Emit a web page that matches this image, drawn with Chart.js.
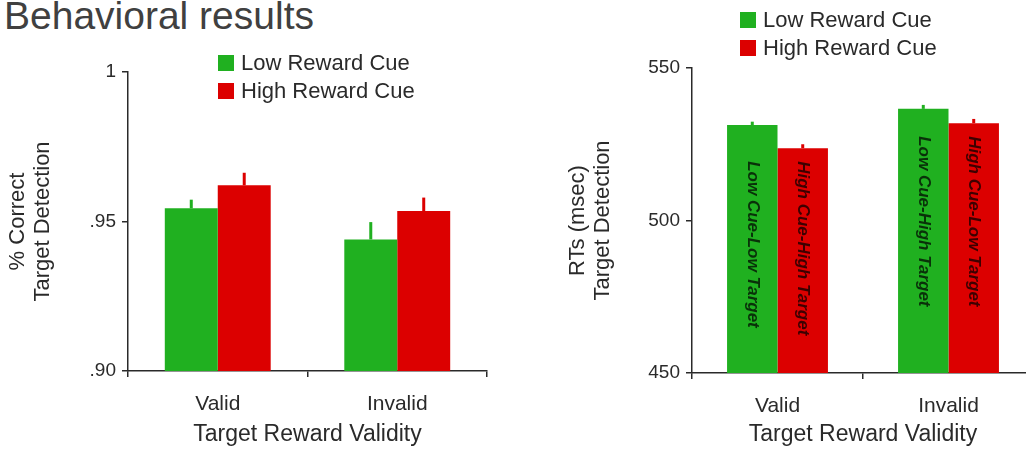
<!DOCTYPE html>
<html>
<head>
<meta charset="utf-8">
<script src="https://cdn.jsdelivr.net/npm/chart.js@4.4.1/dist/chart.umd.min.js"></script>
<style>
  html, body { margin: 0; padding: 0; background: #fff; overflow: hidden; }
  #page { position: relative; width: 1026px; height: 449px; overflow: hidden; }
  #title { position: absolute; left: 4px; top: -6px; font: 39px "Liberation Sans", Arial, sans-serif; color: #404040; white-space: nowrap; }
  #leftBox { position: absolute; left: 0; top: 0; width: 520px; height: 449px; }
  #rightBox { position: absolute; left: 560px; top: 0; width: 490px; height: 449px; }
</style>
</head>
<body>
<div id="page">
  <div id="title">Behavioral results</div>
  <div id="leftBox"><canvas id="accChart"></canvas></div>
  <div id="rightBox"><canvas id="rtChart"></canvas></div>
</div>
<script>
// data
const categories = ['Valid', 'Invalid'];
const seriesLabels = ['Low Reward Cue', 'High Reward Cue'];
const seriesColors = ['#20b020', '#dc0000'];

const accuracyLow = [0.9544, 0.9440];
const accuracyHigh = [0.9621, 0.9535];
const accuracyLowErr = [0.0029, 0.0058];
const accuracyHighErr = [0.0042, 0.0045];
const accuracyTicks = ['.90', '.95', '1'];

const rtLow = [531.3, 536.6];
const rtHigh = [523.7, 531.9];
const rtLowErr = [1.1, 1.3];
const rtHighErr = [1.3, 1.4];
const rtTicks = ['450', '500', '550'];

const rtBarLabels = [
  ['Low Cue-Low Target', 'Low Cue-High Target'],
  ['High Cue-High Target', 'High Cue-Low Target']
];

const FONT = '"Liberation Sans", Arial, sans-serif';
const INK = '#2a2a2a';

const errorBarPlugin = {
  id: 'errorBars',
  afterDatasetsDraw(chart, args, opts) {
    const ctx = chart.ctx;
    const y = chart.scales.y;
    chart.data.datasets.forEach((ds, di) => {
      const meta = chart.getDatasetMeta(di);
      meta.data.forEach((bar, i) => {
        const top = y.getPixelForValue(ds.data[i] + ds.errors[i]);
        ctx.save();
        ctx.strokeStyle = ds.backgroundColor;
        ctx.lineWidth = 3;
        ctx.beginPath();
        ctx.moveTo(bar.x, bar.y);
        ctx.lineTo(bar.x, top);
        ctx.stroke();
        ctx.restore();
      });
    });
  }
};

const customLegend = {
  id: 'customLegend',
  afterDraw(chart, args, opts) {
    const ctx = chart.ctx;
    ctx.save();
    ctx.font = '22px ' + FONT;
    ctx.textBaseline = 'middle';
    ctx.textAlign = 'left';
    chart.data.datasets.forEach((ds, i) => {
      const cy = opts.y + i * opts.gap;
      ctx.fillStyle = ds.backgroundColor;
      ctx.fillRect(opts.x, cy - 8, 16, 16);
      ctx.fillStyle = INK;
      ctx.fillText(ds.label, opts.x + 23, cy + 1);
    });
    ctx.restore();
  }
};

const barTextPlugin = {
  id: 'barText',
  afterDatasetsDraw(chart, args, opts) {
    if (!opts.labels) return;
    const ctx = chart.ctx;
    const metas = chart.data.datasets.map((ds, di) => chart.getDatasetMeta(di));
    categories.forEach((c, i) => {
      const startY = Math.max(...metas.map(m => m.data[i].y)) + 13;
      metas.forEach((m, di) => {
        const bar = m.data[i];
        ctx.save();
        ctx.translate(bar.x, startY);
        ctx.rotate(Math.PI / 2);
        ctx.font = 'italic bold 17px ' + FONT;
        ctx.fillStyle = 'rgba(0,0,0,0.72)';
        ctx.textAlign = 'left';
        ctx.textBaseline = 'middle';
        ctx.fillText(opts.labels[di][i], 0, 0);
        ctx.restore();
      });
    });
  }
};

function makeDatasets(low, high, lowErr, highErr) {
  return [
    { label: seriesLabels[0], data: low, errors: lowErr, backgroundColor: seriesColors[0],
      categoryPercentage: 0.59, barPercentage: 1.0, borderWidth: 0 },
    { label: seriesLabels[1], data: high, errors: highErr, backgroundColor: seriesColors[1],
      categoryPercentage: 0.59, barPercentage: 1.0, borderWidth: 0 }
  ];
}

function makeOptions(cfg) {
  return {
    animation: false,
    responsive: true,
    maintainAspectRatio: false,
    layout: { padding: { top: cfg.top, right: cfg.right, bottom: 0, left: 0 } },
    plugins: {
      legend: { display: false },
      tooltip: { enabled: false },
      customLegend: cfg.legend,
      barText: { labels: cfg.barLabels || null }
    },
    scales: {
      x: {
        afterFit: (s) => { s.height = cfg.xHeight; },
        border: { display: true, color: INK, width: 1.5 },
        grid: { display: true, drawOnChartArea: false, drawTicks: true, tickLength: 6, color: INK, lineWidth: 1.5 },
        ticks: { color: INK, font: { family: FONT, size: 21 }, padding: 15 },
        title: { display: true, text: 'Target Reward Validity', color: INK,
                 font: { family: FONT, size: 23 }, padding: { top: 0, bottom: 1 } }
      },
      y: {
        min: cfg.min, max: cfg.max,
        afterFit: (s) => { s.width = cfg.yWidth; },
        border: { display: true, color: INK, width: 1.5 },
        grid: { display: true, drawOnChartArea: false, drawTicks: true, tickLength: 6, color: INK, lineWidth: 1.5 },
        ticks: {
          stepSize: cfg.step, color: INK, font: { family: FONT, size: 19 }, padding: 6,
          callback: (v) => {
            const idx = Math.round((v - cfg.min) / cfg.step);
            return cfg.tickLabels[idx];
          }
        },
        title: { display: true, text: cfg.yTitle, color: INK,
                 font: { family: FONT, size: 22, lineHeight: 1.15 }, padding: { top: 5, bottom: 0 } }
      }
    }
  };
}

const accChart = new Chart(document.getElementById('accChart'), {
  type: 'bar',
  data: { labels: categories, datasets: makeDatasets(accuracyLow, accuracyHigh, accuracyLowErr, accuracyHighErr) },
  options: makeOptions({
    top: 72, right: 33, xHeight: 78, yWidth: 128,
    min: 0.9, max: 1.0, step: 0.05, tickLabels: accuracyTicks,
    yTitle: ['% Correct', 'Target Detection'],
    legend: { x: 218, y: 63, gap: 28 }
  }),
  plugins: [errorBarPlugin, customLegend, barTextPlugin]
});

const rtChart = new Chart(document.getElementById('rtChart'), {
  type: 'bar',
  data: { labels: categories, datasets: makeDatasets(rtLow, rtHigh, rtLowErr, rtHighErr) },
  options: makeOptions({
    top: 68, right: 16, xHeight: 76, yWidth: 132,
    min: 450, max: 550, step: 50, tickLabels: rtTicks,
    yTitle: ['RTs (msec)', 'Target Detection'],
    legend: { x: 180, y: 20, gap: 28 },
    barLabels: rtBarLabels
  }),
  plugins: [errorBarPlugin, customLegend, barTextPlugin]
});
</script>
</body>
</html>
